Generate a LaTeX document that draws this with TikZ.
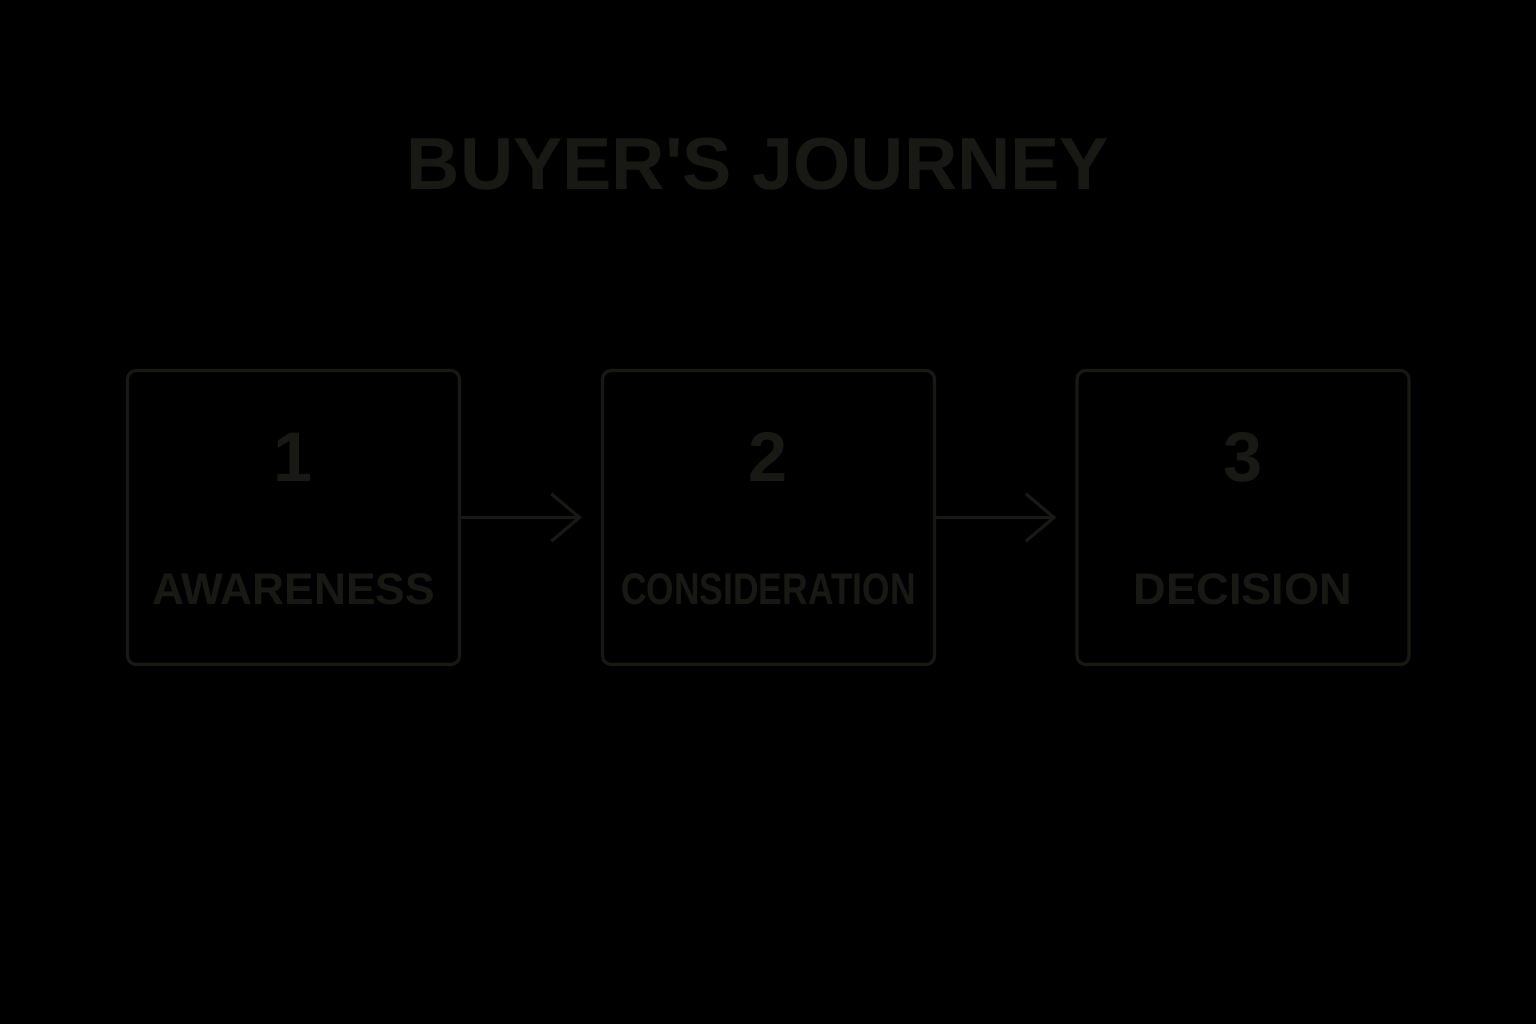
\documentclass[tikz,border=0pt]{standalone}
\usepackage{fontspec}
\setmainfont{Liberation Sans}
\usetikzlibrary{arrows.meta,positioning}
\definecolor{inkdark}{RGB}{24,24,20}
\tikzset{
    stagebox/.style={draw=inkdark, line width=0.9pt, rounded corners=2.5pt,
        minimum width=3.32cm, minimum height=2.94cm},
    stagenum/.style={anchor=base, text=inkdark, font=\bfseries\fontsize{20}{24}\selectfont},
    stagelabel/.style={anchor=base, text=inkdark, font=\bfseries\fontsize{12.6}{15}\selectfont},
}
\begin{document}
\begin{tikzpicture}[>={Straight Barb[length=8pt,width=13.5pt]}, line width=0.9pt]
    % fundo
    \fill [black] (0, 0) rectangle (15.36, 10.24);
    \useasboundingbox (0, 0) rectangle (15.36, 10.24);

    % titulo
    \node (title) [anchor=base, text=inkdark, font=\bfseries\fontsize{21}{25}\selectfont]
        at (7.58, 8.34) {BUYER\textquotesingle S JOURNEY};

    % etapas
    \foreach \x/\n/\name/\lbl/\sx in {2.935/1/awareness/AWARENESS/1,
                                      7.685/2/consideration/CONSIDERATION/0.8,
                                      12.43/3/decision/DECISION/1.02} {
        \node (\name) [stagebox] at (\x, 5.065) {};
        \node (\name-num) [stagenum] at ([yshift=0.365cm]\name.center) {\n};
        \node (\name-lbl) [stagelabel] at ([yshift=-0.865cm]\name.center) {\scalebox{\sx}[1]{\lbl}};
    }

    %% setas
    \draw [->, draw=inkdark, shorten >=0.19cm] (awareness.east) -- (consideration.west);
    \draw [->, draw=inkdark, shorten >=0.19cm] (consideration.east) -- (decision.west);
\end{tikzpicture}
\end{document}
